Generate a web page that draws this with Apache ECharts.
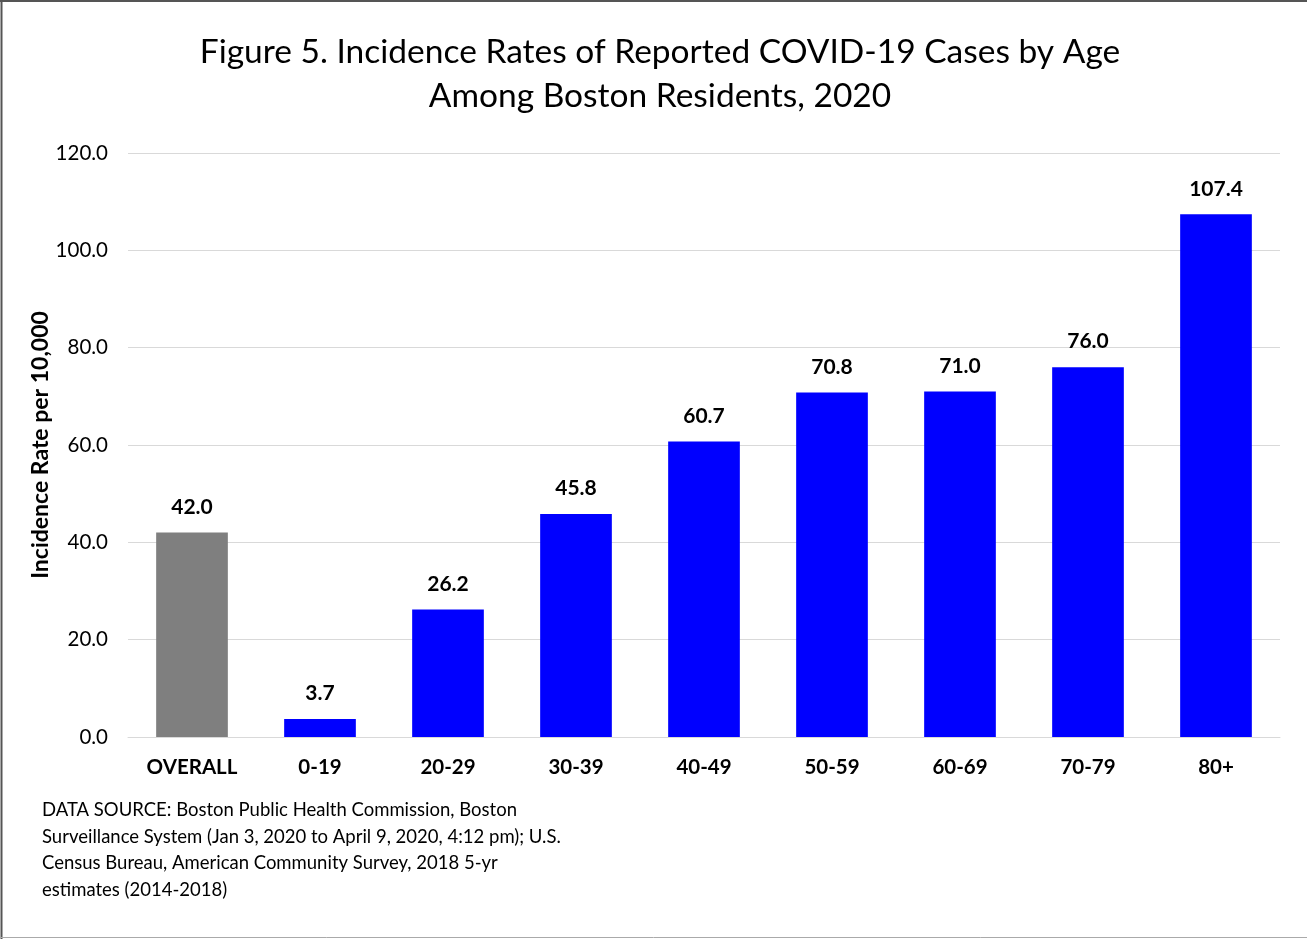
<!DOCTYPE html>
<html><head><meta charset="utf-8">
<script src="https://cdn.jsdelivr.net/npm/echarts@6/dist/echarts.min.js"></script>
<style>html,body{margin:0;padding:0;background:#fff}#c{width:1307px;height:939px}</style>
</head><body><div id="c"></div>
<script>
const categories = ['OVERALL','0-19','20-29','30-39','40-49','50-59','60-69','70-79','80+'];
const values = [42.0, 3.7, 26.2, 45.8, 60.7, 70.8, 71.0, 76.0, 107.4];
const barColors = ['#7f7f7f','#0000ff','#0000ff','#0000ff','#0000ff','#0000ff','#0000ff','#0000ff','#0000ff'];
const yTicks = [0, 20, 40, 60, 80, 100, 120];
const titleText = 'Figure 5. Incidence Rates of Reported COVID-19 Cases by Age\nAmong Boston Residents, 2020';
const yName = 'Incidence Rate per 10,000';
const sourceLines = ['DATA SOURCE: Boston Public Health Commission, Boston','Surveillance System (Jan 3, 2020 to April 9, 2020, 4:12 pm); U.S.','Census Bureau, American Community Survey, 2018 5-yr','estimates (2014-2018)'];
const FONT = 'Lato, "Open Sans", sans-serif';
const chart = echarts.init(document.getElementById('c'));
chart.setOption({
  animation:false,
  title:{text:titleText,left:655,textAlign:'center',top:25,textStyle:{fontFamily:FONT,fontWeight:'normal',fontSize:33.5,lineHeight:44,color:'#000'}},
  grid:{left:128,right:27,top:153,bottom:202,containLabel:false},
  xAxis:{type:'category',data:categories,axisTick:{show:false},axisLine:{lineStyle:{color:'#d9d9d9',width:1}},
    axisLabel:{fontFamily:FONT,fontWeight:'bold',fontSize:20.5,color:'#000',margin:20}},
  yAxis:{type:'value',min:yTicks[0],max:yTicks[yTicks.length-1],interval:20,name:yName,nameLocation:'middle',nameGap:76,nameMoveOverlap:false,
    nameTextStyle:{fontFamily:FONT,fontWeight:'bold',fontSize:23,color:'#000'},
    axisLine:{show:false},axisTick:{show:false},splitLine:{lineStyle:{color:'#d9d9d9',width:1}},
    axisLabel:{fontFamily:FONT,fontSize:20.5,color:'#000',margin:20,formatter:v=>v.toFixed(1)}},
  series:[{type:'bar',barCategoryGap:'44%',
    data:values.map((v,i)=>({value:v,itemStyle:{color:barColors[i]}})),
    label:{show:true,position:'top',distance:15,fontFamily:FONT,fontWeight:'bold',fontSize:21,color:'#000',formatter:p=>p.value.toFixed(1)}}],
  graphic:[
    {type:'text',left:42,top:797,style:{text:sourceLines.join('\n'),fontFamily:FONT,fontSize:18.5,lineHeight:26.5,fill:'#000'}},
    {type:'line',shape:{x1:1.5,y1:0,x2:1.5,y2:939},style:{stroke:'#555',lineWidth:2}},
    {type:'line',shape:{x1:0,y1:1,x2:1307,y2:1},style:{stroke:'#555',lineWidth:2}},
    {type:'line',shape:{x1:0,y1:937.5,x2:1307,y2:937.5},style:{stroke:'#aaa',lineWidth:1}}
  ]
});
</script></body></html>
